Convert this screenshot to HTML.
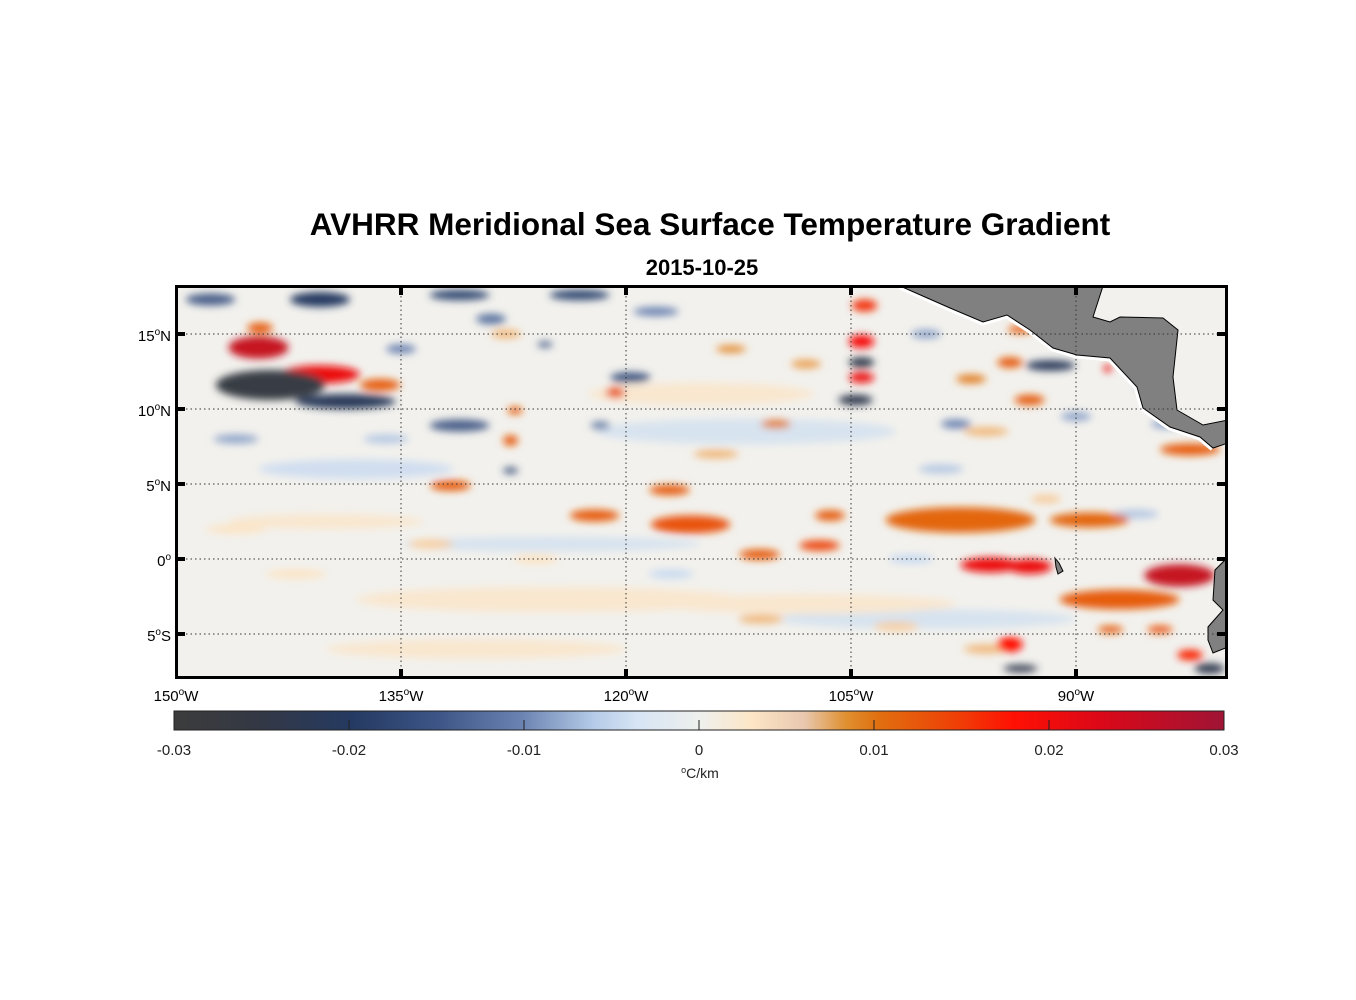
<!DOCTYPE html>
<html><head><meta charset="utf-8"><style>
html,body{margin:0;padding:0;background:#fff;}
svg{display:block;font-family:"Liberation Sans",Arial,sans-serif;}
</style></head><body>
<svg id="fig" width="1356" height="1000" viewBox="0 0 1356 1000">
<defs>
<filter id="blur" x="-20%" y="-20%" width="140%" height="140%"><feGaussianBlur stdDeviation="4"/></filter>
<clipPath id="clip"><rect x="177" y="287" width="1048" height="390"/></clipPath>
<linearGradient id="cmap" x1="0" x2="1" y1="0" y2="0">
<stop offset="0" stop-color="#3c3c3c"/>
<stop offset="0.08" stop-color="#333844"/>
<stop offset="0.17" stop-color="#253a62"/>
<stop offset="0.25" stop-color="#3c5586"/>
<stop offset="0.33" stop-color="#6a82b0"/>
<stop offset="0.40" stop-color="#b5cbe8"/>
<stop offset="0.44" stop-color="#d6e4f4"/>
<stop offset="0.50" stop-color="#eef0ee"/>
<stop offset="0.55" stop-color="#fde6c6"/>
<stop offset="0.60" stop-color="#e9c8b0"/>
<stop offset="0.64" stop-color="#e09030"/>
<stop offset="0.67" stop-color="#e07010"/>
<stop offset="0.75" stop-color="#f03c06"/>
<stop offset="0.80" stop-color="#ff1004"/>
<stop offset="0.88" stop-color="#dc0818"/>
<stop offset="1" stop-color="#a01435"/>
</linearGradient>
</defs>
<text x="710" y="235" text-anchor="middle" font-size="31.5" font-weight="bold">AVHRR Meridional Sea Surface Temperature Gradient</text>
<text x="702" y="275" text-anchor="middle" font-size="22" font-weight="bold">2015-10-25</text>
<g id="map" clip-path="url(#clip)">
<rect x="177" y="287" width="1048" height="390" fill="#f2f1ed"/>
<g id="blobs" filter="url(#blur)"></g>
<g id="land"></g>
<g id="grid"></g>
</g>
<rect x="176.5" y="286.5" width="1050" height="391" fill="none" stroke="#000" stroke-width="3"/>
<g id="ticks"></g>
<g id="cbar"></g>
</svg>
<script>
const lonTicks=[-150,-135,-120,-105,-90];
const lonLabels=["150","135","120","105","90"];
const latTicks=[15,10,5,0,-5];
const latLabels=["15","10","5","0","5"];
const latHemi=["N","N","N","",'S'];
// blobs: centre lon, lat, gradient value, extents (deg)
const blobLon=[-144.5,-144.4,-140.4,-136.4,-143.7,-138.7,-140.4,-147.7,-131.1,-127.4,-127.7,-127.7,-131.7,-122.1,-117.1,-115.7,-111.1,-107.1,-106.4,-131.1,-123.1,-119.7,-120.7,-104.1,-104.3,-104.3,-104.3,-104.7,-97.7,-89.1,-95.7,-93.1,-87.1,-83.1,-82.4,-94.4,-93.7,-81.1,-82.4,-91.7,-94.4,-93.1,-87.9,-87.1,-93.7,-87.7,-84.4,-121.7,-125.4,-138,-112,-125,-100,-130,-140,-108,-115,-125,
 -146,-135,-129,-118,-113,-110,-100,-97,-98,-96,-86,-84,-146,-142,-133,-126,-117,-111,-102,-99,-92,-90,-85,-136,-128,-114,-108,-101,-96];
const blobLat=[14.1,15.4,12.3,11.6,11.6,10.5,17.3,17.3,8.9,9.9,7.9,5.9,4.9,2.9,4.6,2.3,0.3,0.9,2.9,17.6,17.6,12.1,11.1,16.9,14.5,13.1,12.1,10.6,2.6,2.6,-0.4,-0.5,-2.7,-1.1,7.3,-5.7,-7.3,-7.3,-6.4,12.9,13.1,10.6,12.7,15.3,15.3,-4.7,-4.7,8.9,14.3,6,8.5,-2.7,-4,-6,2.5,-3,11,1,
 8,14,16,16.5,14,9,15,12,9,8.5,3,9,2,-1,1,0,-1,-4,-4.5,6,4,9.5,11.5,8,15,7,13,0,-6];
const blobVal=[0.026,0.012,0.022,0.012,-0.028,-0.022,-0.02,-0.015,-0.015,0.012,0.012,-0.018,0.012,0.012,0.012,0.013,0.012,0.014,0.012,-0.018,-0.018,-0.016,0.013,0.016,0.021,-0.026,0.022,-0.025,0.011,0.011,0.022,0.022,0.012,0.026,0.012,0.02,-0.025,-0.025,0.018,-0.022,0.012,0.012,0.022,-0.015,0.012,0.012,0.013,-0.012,-0.015,-0.004,-0.003,0.003,-0.003,0.003,0.003,0.003,0.003,-0.003,
 -0.008,-0.01,-0.012,-0.01,0.008,0.009,-0.008,0.009,-0.01,0.006,-0.006,-0.008,0.004,0.004,0.005,0.004,-0.005,0.006,0.005,-0.006,0.005,-0.008,-0.01,-0.006,0.006,0.006,0.007,-0.005,0.006];
const blobW=[4,1.7,5.3,2.7,7.3,6.7,4,3.3,4,1,1,1,2.7,3.3,2.7,5.3,2.7,2.7,2,4,4,2.7,1.3,1.7,1.7,1.7,1.7,2.3,10,5.3,4,3,8,4.7,4,1.7,2.3,2,1.7,3.3,1.7,2,0.5,1.7,1.7,1.7,1.7,1.3,1,13,20,26,20,20,13,20,15,20,
 3,2,2,3,2,2,2,2,2,3,3,2,4,4,3,3,3,3,3,3,2,2,2,3,2,3,2,3,3];
const blobH=[1.5,0.7,1.2,0.8,2,1,1,0.8,0.8,0.5,0.7,0.4,0.7,0.8,0.7,1.2,0.7,0.7,0.7,0.7,0.7,0.7,0.7,0.8,0.9,0.7,0.7,0.7,1.7,1,1,1,1.3,1.5,0.8,1,0.5,0.7,0.7,0.7,0.7,0.7,0.5,0.4,0.5,0.5,0.5,0.5,0.4,1.3,1.7,1.7,1.3,1.3,1,1.3,1.5,1,
 0.6,0.6,0.7,0.6,0.5,0.6,0.6,0.6,0.6,0.6,0.6,0.6,0.6,0.6,0.6,0.6,0.6,0.6,0.6,0.6,0.6,0.6,0.6,0.6,0.6,0.6,0.6,0.6,0.6];
const cbTicks=[-0.03,-0.02,-0.01,0,0.01,0.02,0.03];
const cbLabels=["-0.03","-0.02","-0.01","0","0.01","0.02","0.03"];

const X0=176,LON0=-150,PX=15,Y0=559;
const xs=lon=>X0+(lon-LON0)*PX;
const ys=lat=>Y0-lat*PX;
const NS="http://www.w3.org/2000/svg";
function mk(tag,attrs,parent){const e=document.createElementNS(NS,tag);for(const k in attrs)e.setAttribute(k,attrs[k]);parent.appendChild(e);return e;}
const stops=[[-0.03,[60,60,60]],[-0.02,[37,58,98]],[-0.01,[106,130,176]],[-0.005,[200,218,240]],[0,[238,240,238]],[0.004,[252,228,196]],[0.008,[228,140,50]],[0.01,[224,112,16]],[0.02,[255,16,4]],[0.03,[160,20,53]]];
function cmap(v){v=Math.max(-0.03,Math.min(0.03,v));for(let i=0;i<stops.length-1;i++){const[a,ca]=stops[i],[b,cb]=stops[i+1];if(v<=b){const t=(v-a)/(b-a);return`rgb(${ca.map((c,j)=>Math.round(c+(cb[j]-c)*t)).join(',')})`;}}return'rgb(160,20,53)';}

const bg=document.getElementById('blobs');
const order=blobVal.map((v,i)=>i).sort((a,b)=>Math.abs(blobVal[a])-Math.abs(blobVal[b]));
order.forEach(i=>{
 const e=mk('ellipse',{cx:xs(blobLon[i]),cy:ys(blobLat[i]),rx:blobW[i]*PX/2,ry:blobH[i]*PX/2,fill:cmap(blobVal[i])},bg);
 
 
});

const land=document.getElementById('land');
const wb=mk('polyline',{points:"900,286 925,297 950,308 983,322 1007,315 1030,330 1053,348 1077,355 1110,358 1137,387 1143,408 1170,427 1200,437 1213,448",fill:"none",stroke:"#fff","stroke-width":7},land);


const ca=mk('polygon',{points:"900,286 1103,286 1093,317 1110,322 1120,317 1163,318 1178,330 1173,377 1177,410 1203,425 1228,420 1228,443 1213,448 1200,437 1170,427 1143,408 1137,387 1110,358 1077,355 1053,348 1030,330 1007,315 983,322 950,308 925,297",fill:"#808080",stroke:"#000","stroke-width":1},land);


const sa=mk('polygon',{points:"1228,557 1215,570 1213,600 1223,610 1208,627 1208,640 1213,653 1228,647 1228,680 1228,557",fill:"#808080",stroke:"#000","stroke-width":1},land);


const gp=mk('polygon',{points:"1055,558 1059,563 1063,571 1058,574 1056,567",fill:"#808080",stroke:"#000","stroke-width":1},land);



const grid=document.getElementById('grid');
lonTicks.slice(1).forEach(l=>{const g=mk('line',{x1:xs(l),x2:xs(l),y1:287,y2:677,stroke:"#333","stroke-width":1,"stroke-dasharray":"1.5,3"},grid);

});
latTicks.forEach(l=>{const g=mk('line',{x1:177,x2:1225,y1:ys(l),y2:ys(l),stroke:"#333","stroke-width":1,"stroke-dasharray":"1.5,3"},grid);

});

const tk=document.getElementById('ticks');
lonTicks.forEach((l,i)=>{const x=xs(l);
 if(i>0){mk('rect',{x:x-2,y:287,width:4,height:8,fill:"#000"},tk);mk('rect',{x:x-2,y:669,width:4,height:8,fill:"#000"},tk);}
 const t=mk('text',{x:x,y:701,"text-anchor":"middle","font-size":15},tk);
 t.innerHTML=lonLabels[i]+'<tspan dy="-6" font-size="10">o</tspan><tspan dy="6">W</tspan>';
 
 
});
latTicks.forEach((l,i)=>{const y=ys(l);
 mk('rect',{x:177,y:y-2,width:8,height:4,fill:"#000"},tk);mk('rect',{x:1217,y:y-2,width:8,height:4,fill:"#000"},tk);
 const t=mk('text',{x:171,y:y+7,"text-anchor":"end","font-size":15},tk);
 t.innerHTML=latLabels[i]+'<tspan dy="-6" font-size="10">o</tspan><tspan dy="6">'+latHemi[i]+'</tspan>';
 
 
});

const cb=document.getElementById('cbar');
const CB0=174,CBW=1050;
const cbx=v=>CB0+(v+0.03)/0.06*CBW;
const bar=mk('rect',{x:174,y:711,width:1050,height:19,fill:"url(#cmap)",stroke:"#222","stroke-width":1},cb);


cbTicks.forEach((v,i)=>{const x=cbx(v);
 if(i>0&&i<cbTicks.length-1)mk('line',{x1:x,x2:x,y1:720,y2:730,stroke:"#222","stroke-width":1},cb);
 const t=mk('text',{x:x,y:755,"text-anchor":"middle","font-size":15,fill:"#222"},cb);
 t.textContent=cbLabels[i];
 
 
});
const u=mk('text',{x:700,y:778,"text-anchor":"middle","font-size":14,fill:"#222"},cb);
u.innerHTML='<tspan dy="-5" font-size="9">o</tspan><tspan dy="5">C/km</tspan>';


</script>
</body></html>
